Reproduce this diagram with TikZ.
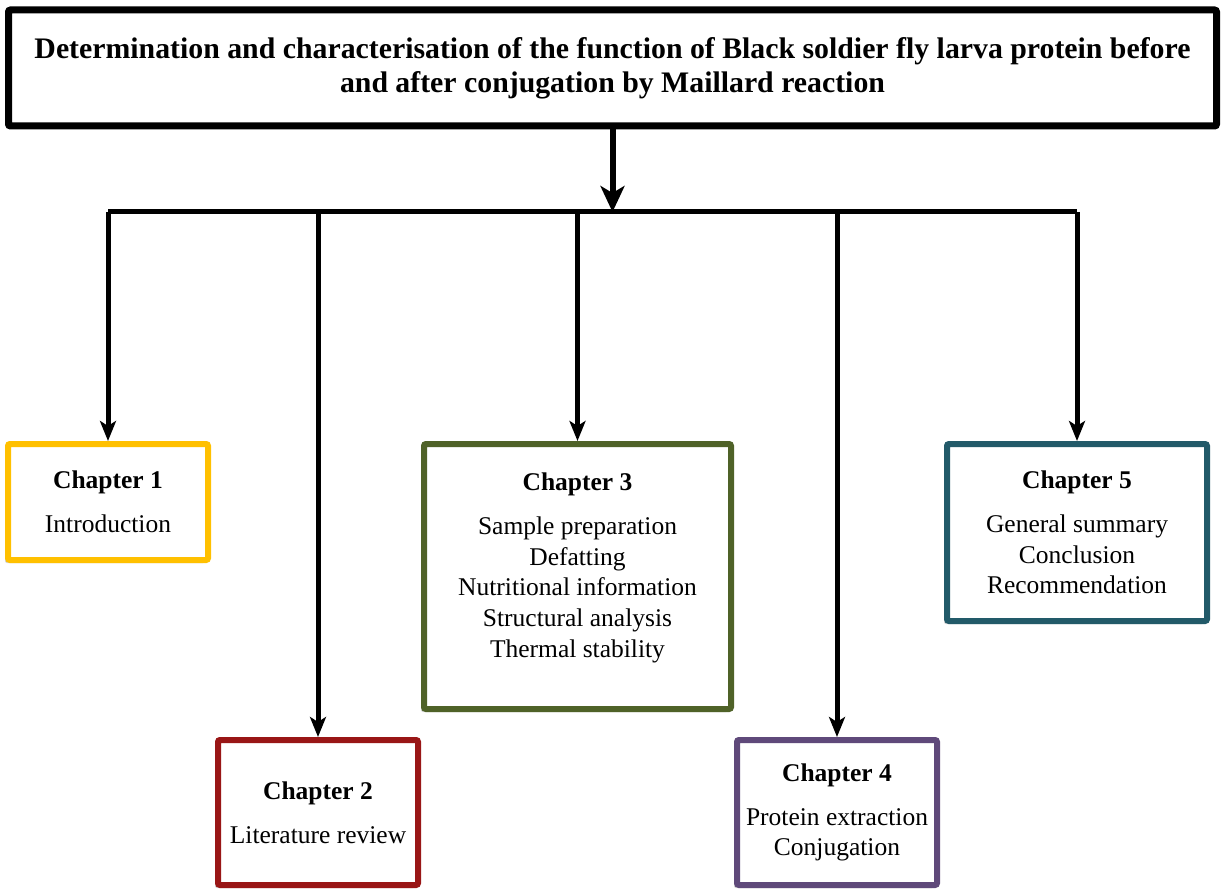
\documentclass[tikz,border=0pt]{standalone}
\usepackage{fontspec}
\setmainfont{Liberation Serif}
\usetikzlibrary{arrows.meta,shadows}

\definecolor{chgold}{HTML}{FFC000}
\definecolor{chred}{HTML}{991616}
\definecolor{cholive}{HTML}{4F6228}
\definecolor{chpurple}{HTML}{5F497A}
\definecolor{chteal}{HTML}{225A69}

\begin{document}
\begin{tikzpicture}[x=1pt,y=-1pt,
  chbox/.style={draw=#1, line width=6pt, rounded corners=2pt, fill=white,
    align=center, inner sep=0pt,
    drop shadow={shadow xshift=-3pt, shadow yshift=-3pt, opacity=0.35, fill=gray},
    font=\fontsize{25.5}{30.7}\selectfont},
  link/.style={line width=5pt, -{Stealth[length=20pt,width=16pt,inset=5pt]}},
  bus/.style={line width=5pt}]
\useasboundingbox (0,0) rectangle (1225,890);
% title
\node[draw, line width=7pt, rounded corners=2pt, fill=white, inner sep=0pt,
  minimum width=1208pt, minimum height=116pt, align=center,
  drop shadow={shadow xshift=-2pt, shadow yshift=-2pt, opacity=0.35, fill=gray},
  font=\fontsize{29.8}{34}\selectfont\bfseries] (title) at (612.5,68)
  {Determination and characterisation of the function of Black soldier fly larva protein before\\
   and after conjugation by Maillard reaction};
% chapters
\node[chbox=chgold, minimum width=200pt, minimum height=116pt] (ch1) at (108,502)
  {\textbf{Chapter 1}\\[13pt] Introduction};
\node[chbox=chred, minimum width=200pt, minimum height=145pt] (ch2) at (318,812.5)
  {\textbf{Chapter 2}\\[13pt] Literature review};
\node[chbox=cholive, minimum width=307pt, minimum height=265pt] (ch3) at (577.5,576.5)
  {\textbf{Chapter 3}\\[13pt] Sample preparation\\ Defatting\\ Nutritional information\\
   Structural analysis\\ Thermal stability\\[-8pt]};
\node[chbox=chpurple, minimum width=200pt, minimum height=145pt] (ch4) at (837,812.5)
  {\textbf{Chapter 4}\\[13pt] Protein extraction\\ Conjugation};
\node[chbox=chteal, minimum width=260pt, minimum height=177pt] (ch5) at (1077,532.5)
  {\textbf{Chapter 5}\\[13pt] General summary\\ Conclusion\\ Recommendation};
% connectors
\coordinate (hub) at (title.south |- 0,212);
\draw[line width=6pt, -{Stealth[length=26pt,width=24pt,inset=7pt]}] (title.south) -- (hub);
\draw[bus] (ch1.north |- hub) -- (ch5.north |- hub);
\foreach \n in {ch1,ch2,ch3,ch4,ch5}
  \draw[link] (\n.north |- hub) -- (\n.north);
\end{tikzpicture}
\end{document}
